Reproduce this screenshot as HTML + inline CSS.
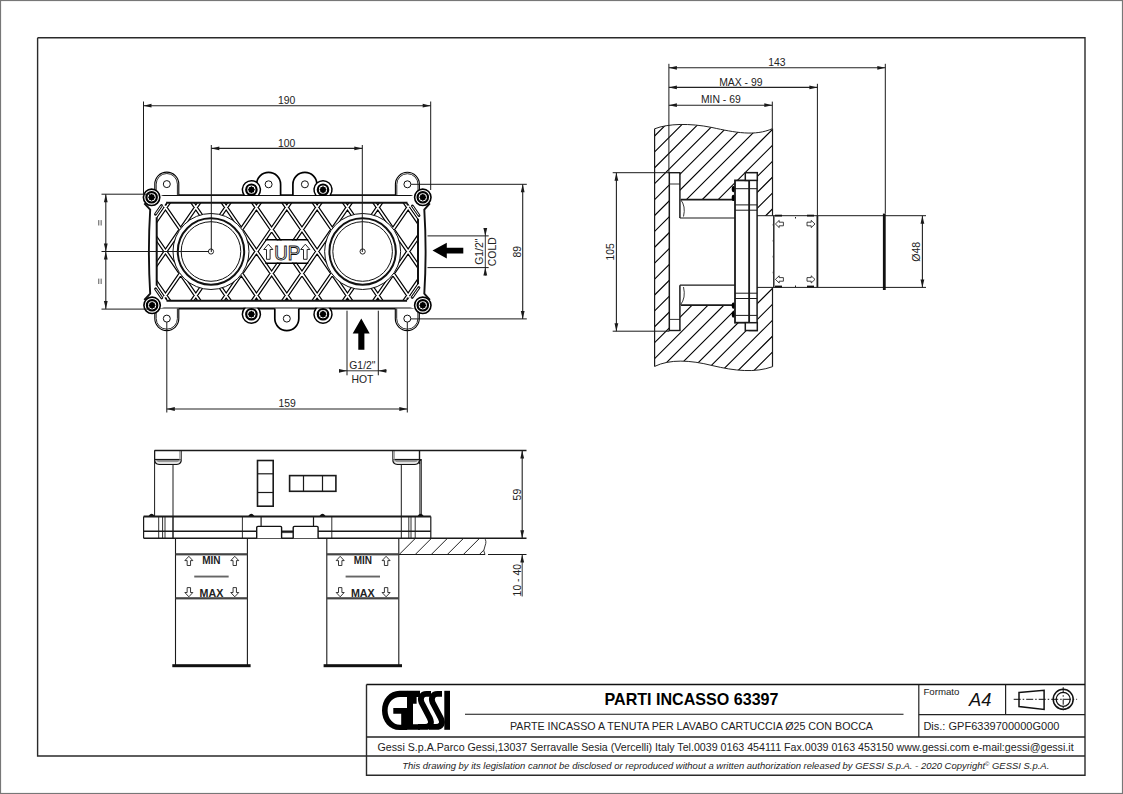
<!DOCTYPE html><html><head><meta charset="utf-8"><style>html,body{margin:0;padding:0;background:#fff;}svg{display:block;}</style></head><body>
<svg width="1123" height="794" viewBox="0 0 1123 794" font-family='"Liberation Sans", sans-serif'>
<rect x="0" y="0" width="1123" height="794" fill="#fff"/>
<rect x="0.5" y="0.5" width="1122" height="793" fill="none" stroke="#777" stroke-width="1.2"/>
<path d="M37.6,37.8 H1085 V775.2 H366.5 V684.5 M37.6,37.8 V756 H1085" fill="none" stroke="#2a2a2a" stroke-width="1.4"/>
<line x1="366.50" y1="684.50" x2="1085.00" y2="684.50" stroke="#111" stroke-width="1.3" />
<line x1="366.50" y1="737.00" x2="1085.00" y2="737.00" stroke="#222" stroke-width="1.3" />
<line x1="918.80" y1="684.50" x2="918.80" y2="737.00" stroke="#222" stroke-width="1.2" />
<line x1="918.80" y1="714.60" x2="1085.00" y2="714.60" stroke="#222" stroke-width="1.2" />
<line x1="1005.60" y1="684.50" x2="1005.60" y2="714.60" stroke="#222" stroke-width="1.2" />
<line x1="465.00" y1="714.30" x2="903.50" y2="714.30" stroke="#111" stroke-width="1.1" />
<text x="691.50" y="705.20" font-size="17" text-anchor="middle" font-weight="bold" font-style="normal" fill="#000" textLength="174" lengthAdjust="spacingAndGlyphs" >PARTI INCASSO 63397</text>
<text x="691.50" y="729.50" font-size="10.4" text-anchor="middle" font-weight="normal" font-style="normal" fill="#222" textLength="363" lengthAdjust="spacingAndGlyphs" >PARTE INCASSO A TENUTA PER LAVABO CARTUCCIA Ø25 CON BOCCA</text>
<text x="923.40" y="695.20" font-size="9.6" text-anchor="start" font-weight="normal" font-style="normal" fill="#222" textLength="36" lengthAdjust="spacingAndGlyphs" >Formato</text>
<text x="969.00" y="705.60" font-size="18.3" text-anchor="start" font-weight="normal" font-style="italic" fill="#111" >A4</text>
<text x="923.40" y="729.70" font-size="10.8" text-anchor="start" font-weight="normal" font-style="normal" fill="#222" textLength="136" lengthAdjust="spacingAndGlyphs" >Dis.: GPF6339700000G000</text>
<text x="377.60" y="751.40" font-size="10.6" text-anchor="start" font-weight="normal" font-style="normal" fill="#222" textLength="696" lengthAdjust="spacingAndGlyphs" >Gessi S.p.A.Parco Gessi,13037 Serravalle Sesia (Vercelli) Italy Tel.0039 0163 454111 Fax.0039 0163 453150 www.gessi.com e-mail:gessi@gessi.it</text>
<text x="402.30" y="768.80" font-size="9.8" text-anchor="start" font-weight="normal" font-style="italic" fill="#222" textLength="647" lengthAdjust="spacingAndGlyphs" >This drawing by its legislation cannot be disclosed or reproduced without a written authorization released by GESSI S.p.A. - 2020 Copyright<tspan font-size="6" dy="-3">©</tspan><tspan dy="3"> GESSI S.p.A.</tspan></text>
<path d="M1019,692.4 L1044.1,690.3 L1044.1,709.4 L1019,706.6 Z" fill="none" stroke="#111" stroke-width="1.5"/>
<line x1="1013.70" y1="699.30" x2="1077.10" y2="699.30" stroke="#111" stroke-width="1.0" stroke-dasharray="7 2 1.5 2"/>
<circle cx="1063.20" cy="699.30" r="10.00" stroke="#111" stroke-width="1.5" fill="none"/>
<circle cx="1063.20" cy="699.30" r="7.00" stroke="#111" stroke-width="1.3" fill="none"/>
<line x1="1063.20" y1="687.20" x2="1063.20" y2="710.60" stroke="#111" stroke-width="1.0" stroke-dasharray="6 2 1.5 2"/>
<g fill="#000"><path fill-rule="evenodd" d="M407.2,690.8 H399.5 C389.5,690.8 382,699.5 382,710.4 C382,721.3 389.5,730 399.5,730 H407.2 Z M407.2,697.1 H400 C393,697.1 387.6,702.7 387.6,710.4 C387.6,718.1 393,724.8 400,724.8 H401.2 V713.8 H393.3 V708 H407.2 Z"/><path d="M407,690.8 H420 V697.1 H416.6 V703.8 H413 V724.3 H420 V729.8 H407 Z"/><rect x="444.3" y="690.8" width="5.7" height="39"/></g><g fill="none" stroke="#000" stroke-width="5.9"><path d="M431,693.9 H426.5 C421.5,693.9 419.8,698.2 421.6,702.6 L429.8,718.2 C432.4,723.4 430.2,726.9 425,726.9 H418"/><path d="M442,693.9 H437.5 C432.5,693.9 430.8,698.2 432.6,702.6 L440.8,718.2 C443.4,723.4 441.2,726.9 436,726.9 H429"/></g>
<defs><clipPath id="gclip"><path d="M166.12,202.80 L407.48,202.80 L410.72,207.50 L418.00,218.06 L418.00,284.94 L410.72,295.50 L407.07,300.80 L166.53,300.80 L162.88,295.50 L156.70,286.53 L156.70,216.47 L162.88,207.50 Z"/></clipPath><mask id="gmask"><rect x="0" y="0" width="1123" height="794" fill="#fff"/><path d="M259.07,251.5 L266.97,240.5 L306.63,240.5 L314.53,251.5 L306.63,262.5 L266.97,262.5 Z" fill="#000"/></mask></defs>
<g clip-path="url(#gclip)" fill="none">
<path d="M-53.51,197.80 L20.92,305.80 M20.51,197.80 L-53.92,305.80 M-23.18,197.80 L51.25,305.80 M50.84,197.80 L-23.59,305.80 M7.15,197.80 L81.58,305.80 M81.17,197.80 L6.74,305.80 M37.48,197.80 L111.91,305.80 M111.50,197.80 L37.07,305.80 M67.81,197.80 L142.24,305.80 M141.83,197.80 L67.40,305.80 M98.14,197.80 L172.57,305.80 M172.16,197.80 L97.73,305.80 M128.47,197.80 L202.90,305.80 M202.49,197.80 L128.06,305.80 M158.80,197.80 L233.23,305.80 M232.82,197.80 L158.39,305.80 M189.13,197.80 L263.56,305.80 M263.15,197.80 L188.72,305.80 M219.46,197.80 L293.89,305.80 M293.48,197.80 L219.05,305.80 M249.79,197.80 L324.22,305.80 M323.81,197.80 L249.38,305.80 M280.12,197.80 L354.55,305.80 M354.14,197.80 L279.71,305.80 M310.45,197.80 L384.88,305.80 M384.47,197.80 L310.04,305.80 M340.78,197.80 L415.21,305.80 M414.80,197.80 L340.37,305.80 M371.11,197.80 L445.54,305.80 M445.13,197.80 L370.70,305.80 M401.44,197.80 L475.87,305.80 M475.46,197.80 L401.03,305.80 M431.77,197.80 L506.20,305.80 M505.79,197.80 L431.36,305.80 M462.10,197.80 L536.53,305.80 M536.12,197.80 L461.69,305.80 M492.43,197.80 L566.86,305.80 M566.45,197.80 L492.02,305.80 M522.76,197.80 L597.19,305.80 M596.78,197.80 L522.35,305.80 M553.09,197.80 L627.52,305.80 M627.11,197.80 L552.68,305.80" stroke="#000" stroke-width="4.1" mask="url(#gmask)"/>
<path d="M-53.51,197.80 L20.92,305.80 M20.51,197.80 L-53.92,305.80 M-23.18,197.80 L51.25,305.80 M50.84,197.80 L-23.59,305.80 M7.15,197.80 L81.58,305.80 M81.17,197.80 L6.74,305.80 M37.48,197.80 L111.91,305.80 M111.50,197.80 L37.07,305.80 M67.81,197.80 L142.24,305.80 M141.83,197.80 L67.40,305.80 M98.14,197.80 L172.57,305.80 M172.16,197.80 L97.73,305.80 M128.47,197.80 L202.90,305.80 M202.49,197.80 L128.06,305.80 M158.80,197.80 L233.23,305.80 M232.82,197.80 L158.39,305.80 M189.13,197.80 L263.56,305.80 M263.15,197.80 L188.72,305.80 M219.46,197.80 L293.89,305.80 M293.48,197.80 L219.05,305.80 M249.79,197.80 L324.22,305.80 M323.81,197.80 L249.38,305.80 M280.12,197.80 L354.55,305.80 M354.14,197.80 L279.71,305.80 M310.45,197.80 L384.88,305.80 M384.47,197.80 L310.04,305.80 M340.78,197.80 L415.21,305.80 M414.80,197.80 L340.37,305.80 M371.11,197.80 L445.54,305.80 M445.13,197.80 L370.70,305.80 M401.44,197.80 L475.87,305.80 M475.46,197.80 L401.03,305.80 M431.77,197.80 L506.20,305.80 M505.79,197.80 L431.36,305.80 M462.10,197.80 L536.53,305.80 M536.12,197.80 L461.69,305.80 M492.43,197.80 L566.86,305.80 M566.45,197.80 L492.02,305.80 M522.76,197.80 L597.19,305.80 M596.78,197.80 L522.35,305.80 M553.09,197.80 L627.52,305.80 M627.11,197.80 L552.68,305.80" stroke="#fff" stroke-width="1.7" mask="url(#gmask)"/>
<path d="M265.30,239.8 L308.30,239.8 M265.30,263.2 L308.30,263.2" stroke="#000" stroke-width="1.4"/>
</g>
<path d="M166.12,202.8 H407.48 M418.0,218.84 V284.16 M407.07,300.8 H166.53 M156.7,285.76 V217.24" fill="none" stroke="#111" stroke-width="2"/>
<path d="M164,195.1 H410.2 Q413,195.1 416,191 M429.9,203.3 L424.3,209.6 Q426.9,251.5 424.3,293.6 L429.9,300 M416,311.5 Q413,308.5 410.2,308.5 H164 Q161,308.5 158,311.5 M144.3,300 L150.2,293.6 Q147.6,251.5 150.2,209.6 L144.3,203.3 M158,191 Q161,195.1 164,195.1" fill="none" stroke="#111" stroke-width="1.9"/>
<line x1="161.49" y1="205.54" x2="155.48" y2="214.25" stroke="#111" stroke-width="2.9" stroke-linecap="round"/>
<line x1="161.15" y1="206.03" x2="155.82" y2="213.76" stroke="#fff" stroke-width="1.0" stroke-linecap="round"/>
<line x1="412.44" y1="206.01" x2="419.00" y2="215.53" stroke="#111" stroke-width="2.9" stroke-linecap="round"/>
<line x1="412.78" y1="206.51" x2="418.66" y2="215.04" stroke="#fff" stroke-width="1.0" stroke-linecap="round"/>
<line x1="161.78" y1="297.88" x2="155.56" y2="288.87" stroke="#111" stroke-width="2.9" stroke-linecap="round"/>
<line x1="161.44" y1="297.39" x2="155.90" y2="289.36" stroke="#fff" stroke-width="1.0" stroke-linecap="round"/>
<line x1="412.15" y1="297.41" x2="418.92" y2="287.59" stroke="#111" stroke-width="2.9" stroke-linecap="round"/>
<line x1="412.49" y1="296.91" x2="418.58" y2="288.08" stroke="#fff" stroke-width="1.0" stroke-linecap="round"/>
<circle cx="166.08" cy="204.60" r="1.00" stroke="#111" stroke-width="0" fill="#111"/>
<circle cx="407.52" cy="204.60" r="1.00" stroke="#111" stroke-width="0" fill="#111"/>
<circle cx="166.08" cy="298.60" r="1.00" stroke="#111" stroke-width="0" fill="#111"/>
<circle cx="407.52" cy="298.60" r="1.00" stroke="#111" stroke-width="0" fill="#111"/>
<circle cx="210.98" cy="251.50" r="38.00" stroke="#111" stroke-width="1.0" fill="#fff"/>
<circle cx="210.98" cy="251.50" r="33.20" stroke="#111" stroke-width="2.0" fill="none"/>
<circle cx="210.98" cy="251.50" r="29.80" stroke="#111" stroke-width="1.0" fill="none"/>
<circle cx="210.98" cy="251.50" r="2.60" stroke="#111" stroke-width="0.9" fill="#fff"/>
<circle cx="362.62" cy="251.50" r="38.00" stroke="#111" stroke-width="1.0" fill="#fff"/>
<circle cx="362.62" cy="251.50" r="33.20" stroke="#111" stroke-width="2.0" fill="none"/>
<circle cx="362.62" cy="251.50" r="29.80" stroke="#111" stroke-width="1.0" fill="none"/>
<circle cx="362.62" cy="251.50" r="2.60" stroke="#111" stroke-width="0.9" fill="#fff"/>
<text x="287.30" y="259.5" font-size="19.5" text-anchor="middle" fill="#fff" stroke="#111" stroke-width="0.9" textLength="26" lengthAdjust="spacingAndGlyphs">UP</text>
<path d="M268.30,244.2 L272.90,249.5 L270.10,249.5 L270.10,259.3 L266.50,259.3 L266.50,249.5 L263.70,249.5 Z" fill="#fff" stroke="#111" stroke-width="0.9"/>
<path d="M305.30,244.2 L309.90,249.5 L307.10,249.5 L307.10,259.3 L303.50,259.3 L303.50,249.5 L300.70,249.5 Z" fill="#fff" stroke="#111" stroke-width="0.9"/>
<path d="M154.80,195.00 V184.10 A12.0,12.0 0 0 1 178.80,184.10 V195.00" fill="#fff" stroke="#000" stroke-width="1.1"/>
<path d="M156.20,195.00 V184.10 A10.6,10.6 0 0 1 177.40,184.10 V195.00" fill="none" stroke="#111" stroke-width="0.9"/>
<circle cx="166.80" cy="184.10" r="3.50" stroke="#111" stroke-width="1.0" fill="#fff"/>
<path d="M395.40,195.00 V184.30 A12.0,12.0 0 0 1 419.40,184.30 V195.00" fill="#fff" stroke="#000" stroke-width="1.1"/>
<path d="M396.80,195.00 V184.30 A10.6,10.6 0 0 1 418.00,184.30 V195.00" fill="none" stroke="#111" stroke-width="0.9"/>
<circle cx="407.40" cy="184.30" r="3.50" stroke="#111" stroke-width="1.0" fill="#fff"/>
<path d="M154.80,308.50 V318.60 A12.0,12.0 0 0 0 178.80,318.60 V308.50" fill="#fff" stroke="#000" stroke-width="1.1"/>
<path d="M156.20,308.50 V318.60 A10.6,10.6 0 0 0 177.40,318.60 V308.50" fill="none" stroke="#111" stroke-width="0.9"/>
<circle cx="166.80" cy="318.60" r="3.50" stroke="#111" stroke-width="1.0" fill="#fff"/>
<path d="M395.30,308.50 V318.60 A12.0,12.0 0 0 0 419.30,318.60 V308.50" fill="#fff" stroke="#000" stroke-width="1.1"/>
<path d="M396.70,308.50 V318.60 A10.6,10.6 0 0 0 417.90,318.60 V308.50" fill="none" stroke="#111" stroke-width="0.9"/>
<circle cx="407.30" cy="318.60" r="3.50" stroke="#111" stroke-width="1.0" fill="#fff"/>
<path d="M256.60,195.00 V184.30 A12.0,12.0 0 0 1 280.60,184.30 V195.00" fill="#fff" stroke="#000" stroke-width="1.7"/>
<circle cx="268.60" cy="184.30" r="3.50" stroke="#111" stroke-width="1.0" fill="#fff"/>
<path d="M292.90,195.00 V184.30 A12.0,12.0 0 0 1 316.90,184.30 V195.00" fill="#fff" stroke="#000" stroke-width="1.7"/>
<circle cx="304.90" cy="184.30" r="3.50" stroke="#111" stroke-width="1.0" fill="#fff"/>
<path d="M274.80,308.50 V318.60 A12.0,12.0 0 0 0 298.80,318.60 V308.50" fill="#fff" stroke="#000" stroke-width="1.7"/>
<circle cx="286.80" cy="318.60" r="3.50" stroke="#111" stroke-width="1.0" fill="#fff"/>
<circle cx="151.60" cy="197.30" r="8.20" stroke="#000" stroke-width="1.6" fill="#fff"/>
<circle cx="151.60" cy="197.30" r="5.20" stroke="#000" stroke-width="2.2" fill="none"/>
<path d="M155.20,197.30 L154.28,198.41 L154.15,199.85 L152.71,199.98 L151.60,200.90 L150.49,199.98 L149.05,199.85 L148.92,198.41 L148.00,197.30 L148.92,196.19 L149.05,194.75 L150.49,194.62 L151.60,193.70 L152.71,194.62 L154.15,194.75 L154.28,196.19 Z" fill="#000"/>
<circle cx="422.80" cy="197.30" r="8.20" stroke="#000" stroke-width="1.6" fill="#fff"/>
<circle cx="422.80" cy="197.30" r="5.20" stroke="#000" stroke-width="2.2" fill="none"/>
<path d="M426.40,197.30 L425.48,198.41 L425.35,199.85 L423.91,199.98 L422.80,200.90 L421.69,199.98 L420.25,199.85 L420.12,198.41 L419.20,197.30 L420.12,196.19 L420.25,194.75 L421.69,194.62 L422.80,193.70 L423.91,194.62 L425.35,194.75 L425.48,196.19 Z" fill="#000"/>
<circle cx="152.10" cy="305.30" r="8.20" stroke="#000" stroke-width="1.6" fill="#fff"/>
<circle cx="152.10" cy="305.30" r="5.20" stroke="#000" stroke-width="2.2" fill="none"/>
<path d="M155.70,305.30 L154.78,306.41 L154.65,307.85 L153.21,307.98 L152.10,308.90 L150.99,307.98 L149.55,307.85 L149.42,306.41 L148.50,305.30 L149.42,304.19 L149.55,302.75 L150.99,302.62 L152.10,301.70 L153.21,302.62 L154.65,302.75 L154.78,304.19 Z" fill="#000"/>
<circle cx="422.80" cy="305.30" r="8.20" stroke="#000" stroke-width="1.6" fill="#fff"/>
<circle cx="422.80" cy="305.30" r="5.20" stroke="#000" stroke-width="2.2" fill="none"/>
<path d="M426.40,305.30 L425.48,306.41 L425.35,307.85 L423.91,307.98 L422.80,308.90 L421.69,307.98 L420.25,307.85 L420.12,306.41 L419.20,305.30 L420.12,304.19 L420.25,302.75 L421.69,302.62 L422.80,301.70 L423.91,302.62 L425.35,302.75 L425.48,304.19 Z" fill="#000"/>
<path d="M244.20,195.10 A9.0,9.0 0 1 1 258.60,195.10 Z" fill="#fff" stroke="none"/>
<path d="M243.20,195.10 L244.20,195.10 A9.0,9.0 0 1 1 258.60,195.10 L259.60,195.10" fill="none" stroke="#000" stroke-width="1.5"/>
<circle cx="251.40" cy="189.70" r="5.20" stroke="#000" stroke-width="2.2" fill="none"/>
<path d="M255.00,189.70 L254.08,190.81 L253.95,192.25 L252.51,192.38 L251.40,193.30 L250.29,192.38 L248.85,192.25 L248.72,190.81 L247.80,189.70 L248.72,188.59 L248.85,187.15 L250.29,187.02 L251.40,186.10 L252.51,187.02 L253.95,187.15 L254.08,188.59 Z" fill="#000"/>
<path d="M315.80,195.10 A9.0,9.0 0 1 1 330.20,195.10 Z" fill="#fff" stroke="none"/>
<path d="M314.80,195.10 L315.80,195.10 A9.0,9.0 0 1 1 330.20,195.10 L331.20,195.10" fill="none" stroke="#000" stroke-width="1.5"/>
<circle cx="323.00" cy="189.70" r="5.20" stroke="#000" stroke-width="2.2" fill="none"/>
<path d="M326.60,189.70 L325.68,190.81 L325.55,192.25 L324.11,192.38 L323.00,193.30 L321.89,192.38 L320.45,192.25 L320.32,190.81 L319.40,189.70 L320.32,188.59 L320.45,187.15 L321.89,187.02 L323.00,186.10 L324.11,187.02 L325.55,187.15 L325.68,188.59 Z" fill="#000"/>
<path d="M244.44,308.50 A9.0,9.0 0 1 0 258.36,308.50 Z" fill="#fff" stroke="none"/>
<path d="M243.44,308.50 L244.44,308.50 A9.0,9.0 0 1 0 258.36,308.50 L259.36,308.50" fill="none" stroke="#000" stroke-width="1.5"/>
<circle cx="251.40" cy="314.20" r="5.20" stroke="#000" stroke-width="2.2" fill="none"/>
<path d="M255.00,314.20 L254.08,315.31 L253.95,316.75 L252.51,316.88 L251.40,317.80 L250.29,316.88 L248.85,316.75 L248.72,315.31 L247.80,314.20 L248.72,313.09 L248.85,311.65 L250.29,311.52 L251.40,310.60 L252.51,311.52 L253.95,311.65 L254.08,313.09 Z" fill="#000"/>
<path d="M316.04,308.50 A9.0,9.0 0 1 0 329.96,308.50 Z" fill="#fff" stroke="none"/>
<path d="M315.04,308.50 L316.04,308.50 A9.0,9.0 0 1 0 329.96,308.50 L330.96,308.50" fill="none" stroke="#000" stroke-width="1.5"/>
<circle cx="323.00" cy="314.20" r="5.20" stroke="#000" stroke-width="2.2" fill="none"/>
<path d="M326.60,314.20 L325.68,315.31 L325.55,316.75 L324.11,316.88 L323.00,317.80 L321.89,316.88 L320.45,316.75 L320.32,315.31 L319.40,314.20 L320.32,313.09 L320.45,311.65 L321.89,311.52 L323.00,310.60 L324.11,311.52 L325.55,311.65 L325.68,313.09 Z" fill="#000"/>
<line x1="143.50" y1="101.50" x2="143.50" y2="196.00" stroke="#1a1a1a" stroke-width="1.0" />
<line x1="430.70" y1="101.50" x2="430.70" y2="190.00" stroke="#1a1a1a" stroke-width="1.0" />
<line x1="143.50" y1="105.70" x2="430.70" y2="105.70" stroke="#222" stroke-width="1.1" />
<path d="M143.50,105.70 L151.50,103.80 L151.50,107.60 Z" fill="#1a1a1a"/>
<path d="M430.70,105.70 L422.70,107.60 L422.70,103.80 Z" fill="#1a1a1a"/>
<text x="286.70" y="104.30" font-size="10.4" text-anchor="middle" font-weight="normal" font-style="normal" fill="#222" >190</text>
<line x1="211.30" y1="145.00" x2="211.30" y2="252.00" stroke="#1a1a1a" stroke-width="1.0" />
<line x1="362.30" y1="145.00" x2="362.30" y2="252.00" stroke="#1a1a1a" stroke-width="1.0" />
<line x1="211.30" y1="148.40" x2="362.30" y2="148.40" stroke="#222" stroke-width="1.1" />
<path d="M211.30,148.40 L219.30,146.50 L219.30,150.30 Z" fill="#1a1a1a"/>
<path d="M362.30,148.40 L354.30,150.30 L354.30,146.50 Z" fill="#1a1a1a"/>
<text x="286.70" y="147.10" font-size="10.4" text-anchor="middle" font-weight="normal" font-style="normal" fill="#222" >100</text>
<line x1="101.50" y1="194.20" x2="150.00" y2="194.20" stroke="#1a1a1a" stroke-width="1.0" />
<line x1="101.50" y1="251.50" x2="209.00" y2="251.50" stroke="#1a1a1a" stroke-width="1.0" />
<line x1="101.50" y1="309.10" x2="150.00" y2="309.10" stroke="#1a1a1a" stroke-width="1.0" />
<line x1="105.80" y1="194.20" x2="105.80" y2="251.50" stroke="#222" stroke-width="1.1" />
<path d="M105.80,194.20 L107.70,202.20 L103.90,202.20 Z" fill="#1a1a1a"/>
<path d="M105.80,251.50 L103.90,243.50 L107.70,243.50 Z" fill="#1a1a1a"/>
<line x1="105.80" y1="251.50" x2="105.80" y2="309.10" stroke="#222" stroke-width="1.1" />
<path d="M105.80,251.50 L107.70,259.50 L103.90,259.50 Z" fill="#1a1a1a"/>
<path d="M105.80,309.10 L103.90,301.10 L107.70,301.10 Z" fill="#1a1a1a"/>
<rect x="98.2" y="220.10" width="1.1" height="5.4" fill="#666"/><rect x="100.6" y="220.10" width="1.1" height="5.4" fill="#666"/>
<rect x="98.2" y="278.60" width="1.1" height="5.4" fill="#666"/><rect x="100.6" y="278.60" width="1.1" height="5.4" fill="#666"/>
<line x1="411.10" y1="184.30" x2="526.80" y2="184.30" stroke="#1a1a1a" stroke-width="1.0" />
<line x1="410.80" y1="318.90" x2="526.80" y2="318.90" stroke="#1a1a1a" stroke-width="1.0" />
<line x1="522.70" y1="184.30" x2="522.70" y2="318.90" stroke="#222" stroke-width="1.1" />
<path d="M522.70,184.30 L524.60,192.30 L520.80,192.30 Z" fill="#1a1a1a"/>
<path d="M522.70,318.90 L520.80,310.90 L524.60,310.90 Z" fill="#1a1a1a"/>
<text x="521.30" y="251.80" font-size="10.4" text-anchor="middle" font-weight="normal" font-style="normal" fill="#222" transform="rotate(-90 521.30 251.80)" >89</text>
<line x1="166.80" y1="322.10" x2="166.80" y2="412.50" stroke="#1a1a1a" stroke-width="1.0" />
<line x1="407.30" y1="322.10" x2="407.30" y2="412.50" stroke="#1a1a1a" stroke-width="1.0" />
<line x1="166.80" y1="409.00" x2="407.30" y2="409.00" stroke="#222" stroke-width="1.1" />
<path d="M166.80,409.00 L174.80,407.10 L174.80,410.90 Z" fill="#1a1a1a"/>
<path d="M407.30,409.00 L399.30,410.90 L399.30,407.10 Z" fill="#1a1a1a"/>
<text x="287.10" y="406.80" font-size="10.4" text-anchor="middle" font-weight="normal" font-style="normal" fill="#222" >159</text>
<line x1="427.50" y1="235.90" x2="488.70" y2="235.90" stroke="#1a1a1a" stroke-width="1.0" />
<line x1="427.50" y1="267.60" x2="488.70" y2="267.60" stroke="#1a1a1a" stroke-width="1.0" />
<line x1="485.30" y1="228.00" x2="485.30" y2="275.60" stroke="#222" stroke-width="0.9" />
<path d="M485.30,235.90 L483.40,227.90 L487.20,227.90 Z" fill="#1a1a1a"/>
<path d="M485.30,267.60 L487.20,275.60 L483.40,275.60 Z" fill="#1a1a1a"/>
<text x="482.60" y="251.70" font-size="10.4" text-anchor="middle" font-weight="normal" font-style="normal" fill="#222" transform="rotate(-90 482.60 251.70)" >G1/2"</text>
<text x="496.20" y="251.70" font-size="10.4" text-anchor="middle" font-weight="normal" font-style="normal" fill="#222" transform="rotate(-90 496.20 251.70)" >COLD</text>
<path d="M432.5,250.6 L446.8,242.7 L446.8,247.7 L463.3,247.7 L463.3,253.6 L446.8,253.6 L446.8,258.5 Z" fill="#000"/>
<line x1="347.00" y1="310.70" x2="347.00" y2="375.30" stroke="#1a1a1a" stroke-width="1.0" />
<line x1="378.30" y1="310.70" x2="378.30" y2="375.30" stroke="#1a1a1a" stroke-width="1.0" />
<line x1="339.00" y1="370.80" x2="386.70" y2="370.80" stroke="#222" stroke-width="0.9" />
<path d="M347.00,370.80 L339.00,372.70 L339.00,368.90 Z" fill="#1a1a1a"/>
<path d="M378.30,370.80 L386.30,368.90 L386.30,372.70 Z" fill="#1a1a1a"/>
<text x="362.40" y="368.60" font-size="10.4" text-anchor="middle" font-weight="normal" font-style="normal" fill="#222" >G1/2"</text>
<text x="362.40" y="382.60" font-size="10.4" text-anchor="middle" font-weight="normal" font-style="normal" fill="#222" >HOT</text>
<path d="M361.3,318.6 L369.7,333.4 L364.4,333.4 L364.4,349.7 L358.3,349.7 L358.3,333.4 L352.7,333.4 Z" fill="#000"/>
<defs><clipPath id="wclip"><path d="M654.6,128.8 C668,123.5 690,123 712,127.5 C735,132.5 755,136.5 772.5,128.6 L772.5,366.7 C755,373 735,371 712,365.5 C690,360 670,359 654.6,366.4 Z"/></clipPath><mask id="wmask"><rect x="0" y="0" width="1123" height="794" fill="#fff"/><path d="M669.3,172.7 H679.9 V199.2 H735 V180.4 H749.3 V172.7 H757.1 V215.7 H772.5 V287.4 H757.1 V330.5 H749.3 V322.7 H735 V305.1 H679.9 V330.5 H669.3 Z" fill="#000"/></mask></defs>
<g clip-path="url(#wclip)"><path d="M124.40,380 L394.40,110 M140.30,380 L410.30,110 M156.20,380 L426.20,110 M172.10,380 L442.10,110 M188.00,380 L458.00,110 M203.90,380 L473.90,110 M219.80,380 L489.80,110 M235.70,380 L505.70,110 M251.60,380 L521.60,110 M267.50,380 L537.50,110 M283.40,380 L553.40,110 M299.30,380 L569.30,110 M315.20,380 L585.20,110 M331.10,380 L601.10,110 M347.00,380 L617.00,110 M362.90,380 L632.90,110 M378.80,380 L648.80,110 M394.70,380 L664.70,110 M410.60,380 L680.60,110 M426.50,380 L696.50,110 M442.40,380 L712.40,110 M458.30,380 L728.30,110 M474.20,380 L744.20,110 M490.10,380 L760.10,110 M506.00,380 L776.00,110 M521.90,380 L791.90,110 M537.80,380 L807.80,110 M553.70,380 L823.70,110 M569.60,380 L839.60,110 M585.50,380 L855.50,110 M601.40,380 L871.40,110 M617.30,380 L887.30,110 M633.20,380 L903.20,110 M649.10,380 L919.10,110 M665.00,380 L935.00,110 M680.90,380 L950.90,110 M696.80,380 L966.80,110 M712.70,380 L982.70,110 M728.60,380 L998.60,110 M744.50,380 L1014.50,110 M760.40,380 L1030.40,110 M776.30,380 L1046.30,110 M792.20,380 L1062.20,110 M808.10,380 L1078.10,110 M824.00,380 L1094.00,110 M839.90,380 L1109.90,110 M855.80,380 L1125.80,110 M871.70,380 L1141.70,110 M887.60,380 L1157.60,110 M903.50,380 L1173.50,110" stroke="#000" stroke-width="1.1" fill="none" mask="url(#wmask)"/></g>
<path d="M654.6,128.8 C668,123.5 690,123 712,127.5 C735,132.5 755,136.5 772.5,128.6" fill="none" stroke="#222" stroke-width="1.0"/>
<path d="M654.6,128.8 V366.4 L772.5,366.7 C755,373 735,371 712,365.5 C690,360 670,359 654.6,366.4 Z" fill="none" stroke="#222" stroke-width="0"/>
<path d="M772.5,366.7 C755,373 735,371 712,365.5 C690,360 670,359 654.6,366.4" fill="none" stroke="#222" stroke-width="1.0"/>
<line x1="654.60" y1="128.80" x2="654.60" y2="366.40" stroke="#1a1a1a" stroke-width="1.2" />
<line x1="772.50" y1="128.60" x2="772.50" y2="215.70" stroke="#1a1a1a" stroke-width="1.2" />
<line x1="772.50" y1="287.40" x2="772.50" y2="366.70" stroke="#1a1a1a" stroke-width="1.2" />
<rect x="669.3" y="172.7" width="10.6" height="157.8" fill="#fff"/>
<line x1="669.30" y1="172.70" x2="669.30" y2="330.50" stroke="#1a1a1a" stroke-width="1.5" />
<line x1="668.60" y1="172.70" x2="680.60" y2="172.70" stroke="#1a1a1a" stroke-width="1.4" />
<line x1="668.60" y1="330.50" x2="680.60" y2="330.50" stroke="#1a1a1a" stroke-width="1.4" />
<line x1="679.90" y1="172.70" x2="679.90" y2="218.00" stroke="#1a1a1a" stroke-width="1.5" />
<line x1="679.90" y1="285.20" x2="679.90" y2="330.50" stroke="#1a1a1a" stroke-width="1.5" />
<line x1="669.30" y1="184.00" x2="679.90" y2="184.00" stroke="#1a1a1a" stroke-width="0.9" />
<line x1="669.30" y1="319.40" x2="679.90" y2="319.40" stroke="#1a1a1a" stroke-width="0.9" />
<line x1="681.00" y1="199.70" x2="735.00" y2="199.70" stroke="#1a1a1a" stroke-width="1.8" />
<line x1="679.90" y1="218.00" x2="757.10" y2="218.00" stroke="#1a1a1a" stroke-width="1.2" />
<line x1="679.90" y1="285.20" x2="757.10" y2="285.20" stroke="#1a1a1a" stroke-width="1.2" />
<line x1="681.00" y1="305.10" x2="735.00" y2="305.10" stroke="#1a1a1a" stroke-width="1.8" />
<path d="M680.5,199.5 Q686,206 683.5,216.5" fill="none" stroke="#222" stroke-width="0.9"/>
<path d="M680.5,304.8 Q686,298 683.5,287" fill="none" stroke="#222" stroke-width="0.9"/>
<ellipse cx="733.4" cy="189.1" rx="1.7" ry="3.1" fill="#000"/>
<ellipse cx="733.4" cy="197.9" rx="1.7" ry="3.1" fill="#000"/>
<ellipse cx="733.4" cy="305.6" rx="1.7" ry="3.1" fill="#000"/>
<ellipse cx="733.4" cy="314.4" rx="1.7" ry="3.1" fill="#000"/>
<rect x="735.00" y="180.40" width="14.30" height="142.30" stroke="#1a1a1a" stroke-width="1.8" fill="#fff" />
<rect x="749.30" y="172.70" width="7.80" height="157.80" stroke="#1a1a1a" stroke-width="1.5" fill="#fff" />
<rect x="745.30" y="322.70" width="12.00" height="7.80" stroke="#1a1a1a" stroke-width="1.5" fill="#fff" />
<rect x="745.30" y="172.70" width="12.00" height="7.70" stroke="#1a1a1a" stroke-width="1.5" fill="#fff" />
<line x1="735.00" y1="188.70" x2="757.10" y2="188.70" stroke="#1a1a1a" stroke-width="1.0" />
<line x1="735.00" y1="204.90" x2="757.10" y2="204.90" stroke="#1a1a1a" stroke-width="1.0" />
<line x1="735.00" y1="210.20" x2="757.10" y2="210.20" stroke="#1a1a1a" stroke-width="1.0" />
<line x1="735.00" y1="293.20" x2="757.10" y2="293.20" stroke="#1a1a1a" stroke-width="1.0" />
<line x1="735.00" y1="298.50" x2="757.10" y2="298.50" stroke="#1a1a1a" stroke-width="1.0" />
<line x1="735.00" y1="315.40" x2="757.10" y2="315.40" stroke="#1a1a1a" stroke-width="1.0" />
<line x1="757.10" y1="215.70" x2="926.00" y2="215.70" stroke="#1a1a1a" stroke-width="1.0" />
<line x1="757.10" y1="287.40" x2="926.00" y2="287.40" stroke="#1a1a1a" stroke-width="1.0" />
<line x1="773.80" y1="215.70" x2="773.80" y2="287.40" stroke="#1a1a1a" stroke-width="1.4" />
<line x1="817.40" y1="215.70" x2="817.40" y2="287.40" stroke="#1a1a1a" stroke-width="1.8" />
<rect x="882.9" y="213.6" width="2.8" height="76.4" fill="#111"/>
<rect x="775" y="214.7" width="7" height="1.8" fill="#111"/>
<rect x="807" y="214.7" width="7" height="1.8" fill="#111"/>
<rect x="775" y="285.59999999999997" width="7" height="1.8" fill="#111"/>
<rect x="807" y="285.59999999999997" width="7" height="1.8" fill="#111"/>
<line x1="795.50" y1="217.00" x2="795.50" y2="218.50" stroke="#1a1a1a" stroke-width="1.0" />
<line x1="795.50" y1="285.50" x2="795.50" y2="287.00" stroke="#1a1a1a" stroke-width="1.0" />
<path d="M775.40,224.00 L779.20,220.40 L779.20,222.20 L783.40,222.20 L783.40,225.80 L779.20,225.80 L779.20,227.60 Z" fill="#fff" stroke="#111" stroke-width="0.8"/>
<path d="M815.00,224.00 L811.20,220.40 L811.20,222.20 L807.00,222.20 L807.00,225.80 L811.20,225.80 L811.20,227.60 Z" fill="#fff" stroke="#111" stroke-width="0.8"/>
<path d="M775.40,279.40 L779.20,275.80 L779.20,277.60 L783.40,277.60 L783.40,281.20 L779.20,281.20 L779.20,283.00 Z" fill="#fff" stroke="#111" stroke-width="0.8"/>
<path d="M815.00,279.40 L811.20,275.80 L811.20,277.60 L807.00,277.60 L807.00,281.20 L811.20,281.20 L811.20,283.00 Z" fill="#fff" stroke="#111" stroke-width="0.8"/>
<line x1="668.90" y1="63.80" x2="668.90" y2="172.70" stroke="#1a1a1a" stroke-width="1.0" />
<line x1="885.30" y1="63.80" x2="885.30" y2="213.60" stroke="#1a1a1a" stroke-width="1.0" />
<line x1="817.40" y1="83.80" x2="817.40" y2="215.70" stroke="#1a1a1a" stroke-width="1.0" />
<line x1="772.30" y1="101.60" x2="772.30" y2="128.60" stroke="#1a1a1a" stroke-width="1.0" />
<line x1="668.90" y1="67.80" x2="885.30" y2="67.80" stroke="#222" stroke-width="1.1" />
<path d="M668.90,67.80 L676.90,65.90 L676.90,69.70 Z" fill="#1a1a1a"/>
<path d="M885.30,67.80 L877.30,69.70 L877.30,65.90 Z" fill="#1a1a1a"/>
<text x="776.90" y="65.80" font-size="10.4" text-anchor="middle" font-weight="normal" font-style="normal" fill="#222" >143</text>
<line x1="668.90" y1="87.40" x2="817.40" y2="87.40" stroke="#222" stroke-width="1.1" />
<path d="M668.90,87.40 L676.90,85.50 L676.90,89.30 Z" fill="#1a1a1a"/>
<path d="M817.40,87.40 L809.40,89.30 L809.40,85.50 Z" fill="#1a1a1a"/>
<text x="740.80" y="85.60" font-size="10.4" text-anchor="middle" font-weight="normal" font-style="normal" fill="#222" >MAX - 99</text>
<line x1="668.90" y1="105.20" x2="772.30" y2="105.20" stroke="#222" stroke-width="1.1" />
<path d="M668.90,105.20 L676.90,103.30 L676.90,107.10 Z" fill="#1a1a1a"/>
<path d="M772.30,105.20 L764.30,107.10 L764.30,103.30 Z" fill="#1a1a1a"/>
<text x="720.80" y="103.40" font-size="10.4" text-anchor="middle" font-weight="normal" font-style="normal" fill="#222" >MIN - 69</text>
<line x1="612.70" y1="172.70" x2="669.30" y2="172.70" stroke="#1a1a1a" stroke-width="1.0" />
<line x1="612.70" y1="331.20" x2="669.30" y2="331.20" stroke="#1a1a1a" stroke-width="1.0" />
<line x1="616.40" y1="172.70" x2="616.40" y2="331.20" stroke="#222" stroke-width="1.1" />
<path d="M616.40,172.70 L618.30,180.70 L614.50,180.70 Z" fill="#1a1a1a"/>
<path d="M616.40,331.20 L614.50,323.20 L618.30,323.20 Z" fill="#1a1a1a"/>
<text x="614.20" y="251.90" font-size="10.4" text-anchor="middle" font-weight="normal" font-style="normal" fill="#222" transform="rotate(-90 614.20 251.90)" >105</text>
<line x1="922.40" y1="215.70" x2="922.40" y2="287.40" stroke="#222" stroke-width="1.1" />
<path d="M922.40,215.70 L924.30,223.70 L920.50,223.70 Z" fill="#1a1a1a"/>
<path d="M922.40,287.40 L920.50,279.40 L924.30,279.40 Z" fill="#1a1a1a"/>
<text x="920.50" y="251.80" font-size="10.5" text-anchor="middle" font-weight="normal" font-style="normal" fill="#222" transform="rotate(-90 920.50 251.80)" >Ø48</text>
<rect x="155.60" y="459.5" width="24.70" height="3" fill="#999"/>
<path d="M154.60,459.5 Q154.60,464.3 159.10,464.3 H176.80 Q181.30,464.3 181.30,459.5" fill="none" stroke="#111" stroke-width="1.2"/>
<path d="M156.10,460.5 Q156.80,463 159.60,463 H176.30 Q179.10,463 179.80,460.5" fill="none" stroke="#fff" stroke-width="0.9"/>
<line x1="154.60" y1="459.50" x2="181.30" y2="459.50" stroke="#1a1a1a" stroke-width="1.2" />
<line x1="154.60" y1="450.50" x2="154.60" y2="459.50" stroke="#1a1a1a" stroke-width="1.2" />
<line x1="181.30" y1="450.50" x2="181.30" y2="459.50" stroke="#1a1a1a" stroke-width="1.2" />
<rect x="179.10" y="450.5" width="2.2" height="9" fill="#aaa"/>
<rect x="393.80" y="459.5" width="24.70" height="3" fill="#999"/>
<path d="M392.80,459.5 Q392.80,464.3 397.30,464.3 H415.00 Q419.50,464.3 419.50,459.5" fill="none" stroke="#111" stroke-width="1.2"/>
<path d="M394.30,460.5 Q395.00,463 397.80,463 H414.50 Q417.30,463 418.00,460.5" fill="none" stroke="#fff" stroke-width="0.9"/>
<line x1="392.80" y1="459.50" x2="419.50" y2="459.50" stroke="#1a1a1a" stroke-width="1.2" />
<line x1="392.80" y1="450.50" x2="392.80" y2="459.50" stroke="#1a1a1a" stroke-width="1.2" />
<line x1="419.50" y1="450.50" x2="419.50" y2="459.50" stroke="#1a1a1a" stroke-width="1.2" />
<rect x="392.80" y="450.5" width="2.2" height="9" fill="#aaa"/>
<line x1="154.60" y1="450.50" x2="526.50" y2="450.50" stroke="#1a1a1a" stroke-width="1.3" />
<line x1="154.60" y1="450.50" x2="154.60" y2="516.60" stroke="#1a1a1a" stroke-width="1.0" />
<line x1="173.00" y1="464.00" x2="173.00" y2="538.00" stroke="#1a1a1a" stroke-width="1.0" />
<line x1="401.30" y1="464.00" x2="401.30" y2="538.00" stroke="#1a1a1a" stroke-width="1.0" />
<line x1="420.60" y1="459.00" x2="420.60" y2="516.60" stroke="#1a1a1a" stroke-width="2.4" />
<line x1="420.60" y1="461.00" x2="420.60" y2="514.00" stroke="#bbb" stroke-width="0.7" />
<line x1="419.50" y1="450.50" x2="419.50" y2="464.00" stroke="#1a1a1a" stroke-width="1.2" />
<rect x="257.50" y="460.50" width="15.70" height="45.70" stroke="#1a1a1a" stroke-width="1.6" fill="none" />
<line x1="257.50" y1="473.80" x2="273.20" y2="473.80" stroke="#1a1a1a" stroke-width="1.2" />
<line x1="257.50" y1="492.50" x2="273.20" y2="492.50" stroke="#1a1a1a" stroke-width="1.2" />
<rect x="289.60" y="475.60" width="46.30" height="15.70" stroke="#1a1a1a" stroke-width="1.6" fill="none" />
<line x1="303.50" y1="475.60" x2="303.50" y2="491.30" stroke="#1a1a1a" stroke-width="1.2" />
<line x1="322.50" y1="475.60" x2="322.50" y2="491.30" stroke="#1a1a1a" stroke-width="1.2" />
<line x1="143.60" y1="516.60" x2="430.80" y2="516.60" stroke="#1a1a1a" stroke-width="2.0" />
<line x1="143.60" y1="531.20" x2="430.80" y2="531.20" stroke="#1a1a1a" stroke-width="1.4" />
<line x1="143.60" y1="538.20" x2="526.50" y2="538.20" stroke="#1a1a1a" stroke-width="1.6" />
<line x1="143.60" y1="516.60" x2="143.60" y2="538.20" stroke="#1a1a1a" stroke-width="1.2" />
<line x1="430.80" y1="516.60" x2="430.80" y2="538.20" stroke="#1a1a1a" stroke-width="1.2" />
<line x1="158.70" y1="516.60" x2="158.70" y2="538.20" stroke="#1a1a1a" stroke-width="0.9" />
<line x1="162.60" y1="516.60" x2="162.60" y2="538.20" stroke="#1a1a1a" stroke-width="0.9" />
<line x1="165.00" y1="516.60" x2="165.00" y2="538.20" stroke="#1a1a1a" stroke-width="0.9" />
<line x1="173.00" y1="516.60" x2="173.00" y2="538.20" stroke="#1a1a1a" stroke-width="0.9" />
<line x1="242.40" y1="516.60" x2="242.40" y2="538.20" stroke="#1a1a1a" stroke-width="0.9" />
<line x1="331.80" y1="516.60" x2="331.80" y2="538.20" stroke="#1a1a1a" stroke-width="0.9" />
<line x1="408.80" y1="516.60" x2="408.80" y2="538.20" stroke="#1a1a1a" stroke-width="0.9" />
<line x1="411.00" y1="516.60" x2="411.00" y2="538.20" stroke="#1a1a1a" stroke-width="0.9" />
<line x1="415.20" y1="516.60" x2="415.20" y2="538.20" stroke="#1a1a1a" stroke-width="0.9" />
<line x1="261.10" y1="516.60" x2="261.10" y2="526.40" stroke="#1a1a1a" stroke-width="1.2" />
<line x1="313.50" y1="516.60" x2="313.50" y2="526.40" stroke="#1a1a1a" stroke-width="1.2" />
<path d="M256.7,538.2 V527.5 Q256.7,526.4 258,526.4 H280.5 Q281.6,526.4 281.6,527.5 V538.2" fill="#fff" stroke="#111" stroke-width="1.4"/>
<path d="M293.2,538.2 V527.5 Q293.2,526.4 294.5,526.4 H317 Q318.1,526.4 318.1,527.5 V538.2" fill="#fff" stroke="#111" stroke-width="1.4"/>
<line x1="281.60" y1="532.60" x2="293.20" y2="532.60" stroke="#1a1a1a" stroke-width="0.9" />
<path d="M148.6,516 Q151.6,511.5 154.6,516 Z" fill="#111"/>
<path d="M248.3,516 Q251.3,511.5 254.3,516 Z" fill="#111"/>
<path d="M319.5,516 Q322.5,511.5 325.5,516 Z" fill="#111"/>
<path d="M417.6,516 Q420.6,511.5 423.6,516 Z" fill="#111"/>
<line x1="175.50" y1="538.20" x2="175.50" y2="665.50" stroke="#1a1a1a" stroke-width="1.1" />
<line x1="247.40" y1="538.20" x2="247.40" y2="665.50" stroke="#1a1a1a" stroke-width="1.1" />
<rect x="175.50" y="553.2" width="71.90" height="2.2" fill="#444"/>
<rect x="175.50" y="597.2" width="71.90" height="2.2" fill="#444"/>
<rect x="172.30" y="664.2" width="78.30" height="3" fill="#111"/>
<rect x="194.25" y="575.6" width="34.4" height="1.9" fill="#666"/>
<text x="211.45" y="564.30" font-size="10" text-anchor="middle" font-weight="bold" font-style="normal" fill="#222" >MIN</text>
<text x="211.45" y="597.30" font-size="10.7" text-anchor="middle" font-weight="bold" font-style="normal" fill="#222" >MAX</text>
<path d="M188.85,556.3 L192.85,560.6 L190.55,560.6 L190.55,565.5 L187.15,565.5 L187.15,560.6 L184.85,560.6 Z" fill="#fff" stroke="#222" stroke-width="0.9"/>
<path d="M188.85,596.8 L192.85,592.5 L190.55,592.5 L190.55,587.6 L187.15,587.6 L187.15,592.5 L184.85,592.5 Z" fill="#fff" stroke="#222" stroke-width="0.9"/>
<path d="M234.75,556.3 L238.75,560.6 L236.45,560.6 L236.45,565.5 L233.05,565.5 L233.05,560.6 L230.75,560.6 Z" fill="#fff" stroke="#222" stroke-width="0.9"/>
<path d="M234.75,596.8 L238.75,592.5 L236.45,592.5 L236.45,587.6 L233.05,587.6 L233.05,592.5 L230.75,592.5 Z" fill="#fff" stroke="#222" stroke-width="0.9"/>
<line x1="326.80" y1="538.20" x2="326.80" y2="665.50" stroke="#1a1a1a" stroke-width="1.1" />
<line x1="398.80" y1="538.20" x2="398.80" y2="665.50" stroke="#1a1a1a" stroke-width="1.1" />
<rect x="326.80" y="553.2" width="72.00" height="2.2" fill="#444"/>
<rect x="326.80" y="597.2" width="72.00" height="2.2" fill="#444"/>
<rect x="323.60" y="664.2" width="78.40" height="3" fill="#111"/>
<rect x="345.60" y="575.6" width="34.4" height="1.9" fill="#666"/>
<text x="362.80" y="564.30" font-size="10" text-anchor="middle" font-weight="bold" font-style="normal" fill="#222" >MIN</text>
<text x="362.80" y="597.30" font-size="10.7" text-anchor="middle" font-weight="bold" font-style="normal" fill="#222" >MAX</text>
<path d="M340.20,556.3 L344.20,560.6 L341.90,560.6 L341.90,565.5 L338.50,565.5 L338.50,560.6 L336.20,560.6 Z" fill="#fff" stroke="#222" stroke-width="0.9"/>
<path d="M340.20,596.8 L344.20,592.5 L341.90,592.5 L341.90,587.6 L338.50,587.6 L338.50,592.5 L336.20,592.5 Z" fill="#fff" stroke="#222" stroke-width="0.9"/>
<path d="M386.10,556.3 L390.10,560.6 L387.80,560.6 L387.80,565.5 L384.40,565.5 L384.40,560.6 L382.10,560.6 Z" fill="#fff" stroke="#222" stroke-width="0.9"/>
<path d="M386.10,596.8 L390.10,592.5 L387.80,592.5 L387.80,587.6 L384.40,587.6 L384.40,592.5 L382.10,592.5 Z" fill="#fff" stroke="#222" stroke-width="0.9"/>
<defs><clipPath id="fclip"><path d="M398.8,538.2 H484.5 Q487,541 485,546 Q482.5,551 485,554.5 H398.8 Z"/></clipPath></defs>
<g clip-path="url(#fclip)"><path d="M345.58,560 L375.58,530 M361.62,560 L391.62,530 M377.66,560 L407.66,530 M393.70,560 L423.70,530 M409.74,560 L439.74,530 M425.78,560 L455.78,530 M441.82,560 L471.82,530 M457.86,560 L487.86,530 M473.90,560 L503.90,530 M489.94,560 L519.94,530 M505.98,560 L535.98,530" stroke="#222" stroke-width="1.0" fill="none"/></g>
<line x1="398.80" y1="554.50" x2="485.00" y2="554.50" stroke="#1a1a1a" stroke-width="1.1" />
<path d="M484.5,538.2 Q487,541 485,546 Q482.5,551 485,554.5" fill="none" stroke="#222" stroke-width="0.9"/>
<line x1="488.00" y1="554.50" x2="526.50" y2="554.50" stroke="#1a1a1a" stroke-width="1.0" />
<line x1="522.20" y1="450.50" x2="522.20" y2="538.20" stroke="#222" stroke-width="1.1" />
<path d="M522.20,450.50 L524.10,458.50 L520.30,458.50 Z" fill="#1a1a1a"/>
<path d="M522.20,538.20 L520.30,530.20 L524.10,530.20 Z" fill="#1a1a1a"/>
<text x="521.40" y="494.60" font-size="10.4" text-anchor="middle" font-weight="normal" font-style="normal" fill="#222" transform="rotate(-90 521.40 494.60)" >59</text>
<line x1="522.20" y1="554.50" x2="522.20" y2="596.50" stroke="#222" stroke-width="0.9" />
<path d="M522.20,554.50 L524.10,562.50 L520.30,562.50 Z" fill="#1a1a1a"/>
<text x="521.40" y="580.20" font-size="10.4" text-anchor="middle" font-weight="normal" font-style="normal" fill="#222" transform="rotate(-90 521.40 580.20)" >10 - 40</text>
</svg></body></html>
